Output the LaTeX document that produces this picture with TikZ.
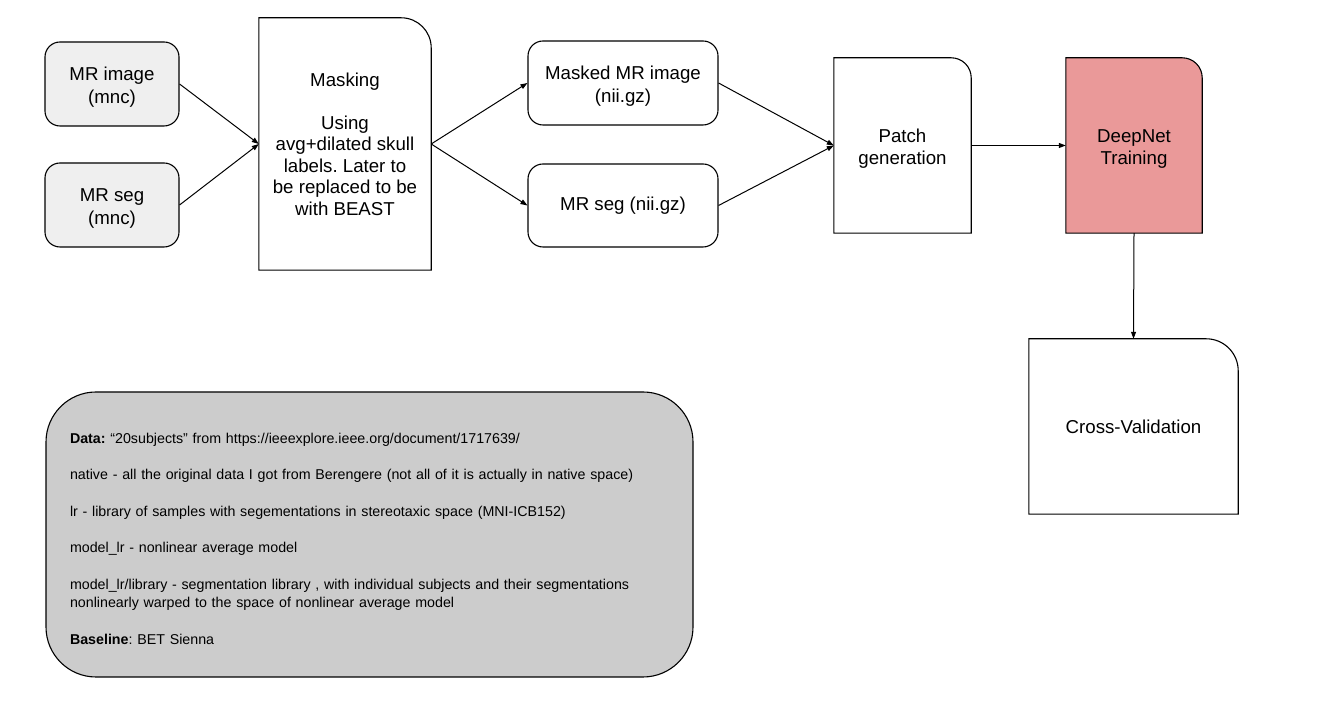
\documentclass[tikz,border=0pt]{standalone}
\usepackage{fontspec}
\setmainfont{Liberation Sans}
\usetikzlibrary{arrows.meta,backgrounds}
\frenchspacing
\definecolor{lightg}{HTML}{EFEFEF}
\definecolor{pinkf}{HTML}{EA9999}
\definecolor{greyf}{HTML}{CCCCCC}
\newcommand\trbox[3]{%
  \begin{pgfonlayer}{background}
  \draw[line width=1.1pt, fill=#3] (#1.south west) -- (#1.north west) -- ([xshift=-#2pt]#1.north east)
     arc[start angle=90,end angle=0,radius=#2pt] -- (#1.south east) -- cycle;
  \end{pgfonlayer}}
\newcommand\lowr{\rule{0pt}{19.5pt}}
\tikzset{
  bigtext/.style={font=\fontsize{18.67pt}{#1}\selectfont},
  rbox/.style={draw, line width=1.1pt, rounded corners=15pt, align=center, inner sep=0pt},
  plainbox/.style={align=center, inner sep=0pt},
  conn/.style={line width=1pt, -{Triangle[length=7pt,width=5pt]}},
}
\begin{document}
\frenchspacing
\begin{tikzpicture}[x=1pt,y=1pt]
\useasboundingbox (0,0) rectangle (1330,719);
\begin{pgfonlayer}{background}
\fill[white] (0,0) rectangle (1330,719);
\end{pgfonlayer}

\node[rbox, bigtext=23pt, fill=lightg, minimum width=134pt, minimum height=84pt] (mrimg) at (112,635) {\lowr MR image\\(mnc)};
\node[rbox, bigtext=23pt, fill=lightg, minimum width=134pt, minimum height=84pt] (mrseg) at (112,514) {\lowr MR seg\\(mnc)};

\node[plainbox, bigtext=21.5pt, minimum width=172pt, minimum height=252pt] (mask) at (345,575)
  {\frenchspacing Masking\\[21.5pt]Using\\avg+dilated skull\\labels. Later to\\be replaced to be\\with BEAST};
\trbox{mask}{30}{white}

\node[rbox, bigtext=23pt, fill=white, minimum width=190pt, minimum height=84pt] (masked) at (623,636) {\lowr Masked MR image\\(nii.gz)};
\node[rbox, bigtext=23pt, fill=white, minimum width=190pt, minimum height=83pt] (segnii) at (623,513.5) {MR seg (nii.gz)};

\node[plainbox, bigtext=21.5pt, minimum width=137pt, minimum height=175pt] (patch) at (902.5,573.5) {\lowr Patch\\generation};
\trbox{patch}{20}{white}

\node[plainbox, bigtext=21.5pt, minimum width=136pt, minimum height=175pt] (deep) at (1134,573.5) {\lowr DeepNet\\Training};
\trbox{deep}{20}{pinkf}

\node[plainbox, bigtext=21.5pt, minimum width=209pt, minimum height=175pt] (cv) at (1133.5,292.5) {Cross-Validation};
\trbox{cv}{32}{white}

\node[draw, line width=1.1pt, fill=greyf, rounded corners=50pt, minimum width=647pt, minimum height=285pt,
      inner xsep=24pt, inner ysep=0pt, text width=599pt, align=left,
      font=\fontsize{14.25pt}{18.27pt}\selectfont] (notes) at (369.5,184.5)
 {\frenchspacing\rule{0pt}{18.5pt}\textbf{Data:} “20subjects” from https://ieeexplore.ieee.org/document/1717639/\\[18.27pt]
  native - all the original data I got from Berengere (not all of it is actually in native space)\\[18.27pt]
  lr - library of samples with segementations in stereotaxic space (MNI-ICB152)\\[18.27pt]
  model\_lr - nonlinear average model\\[18.27pt]
  model\_lr/library - segmentation library , with individual subjects and their segmentations\\
  nonlinearly warped to the space of nonlinear average model\\[18.27pt]
  \textbf{Baseline}: BET Sienna};

\draw[conn] (mrimg.east) -- (mask.west);
\draw[conn] (mrseg.east) -- (mask.west);
\draw[conn] (mask.east) -- (masked.west);
\draw[conn] (mask.east) -- (segnii.west);
\draw[conn] (masked.east) -- (patch.west);
\draw[conn] (segnii.east) -- (patch.west);
\draw[conn] (patch.east) -- (deep.west);
\draw[conn] (deep.south) -- (cv.north);
\end{tikzpicture}
\end{document}
